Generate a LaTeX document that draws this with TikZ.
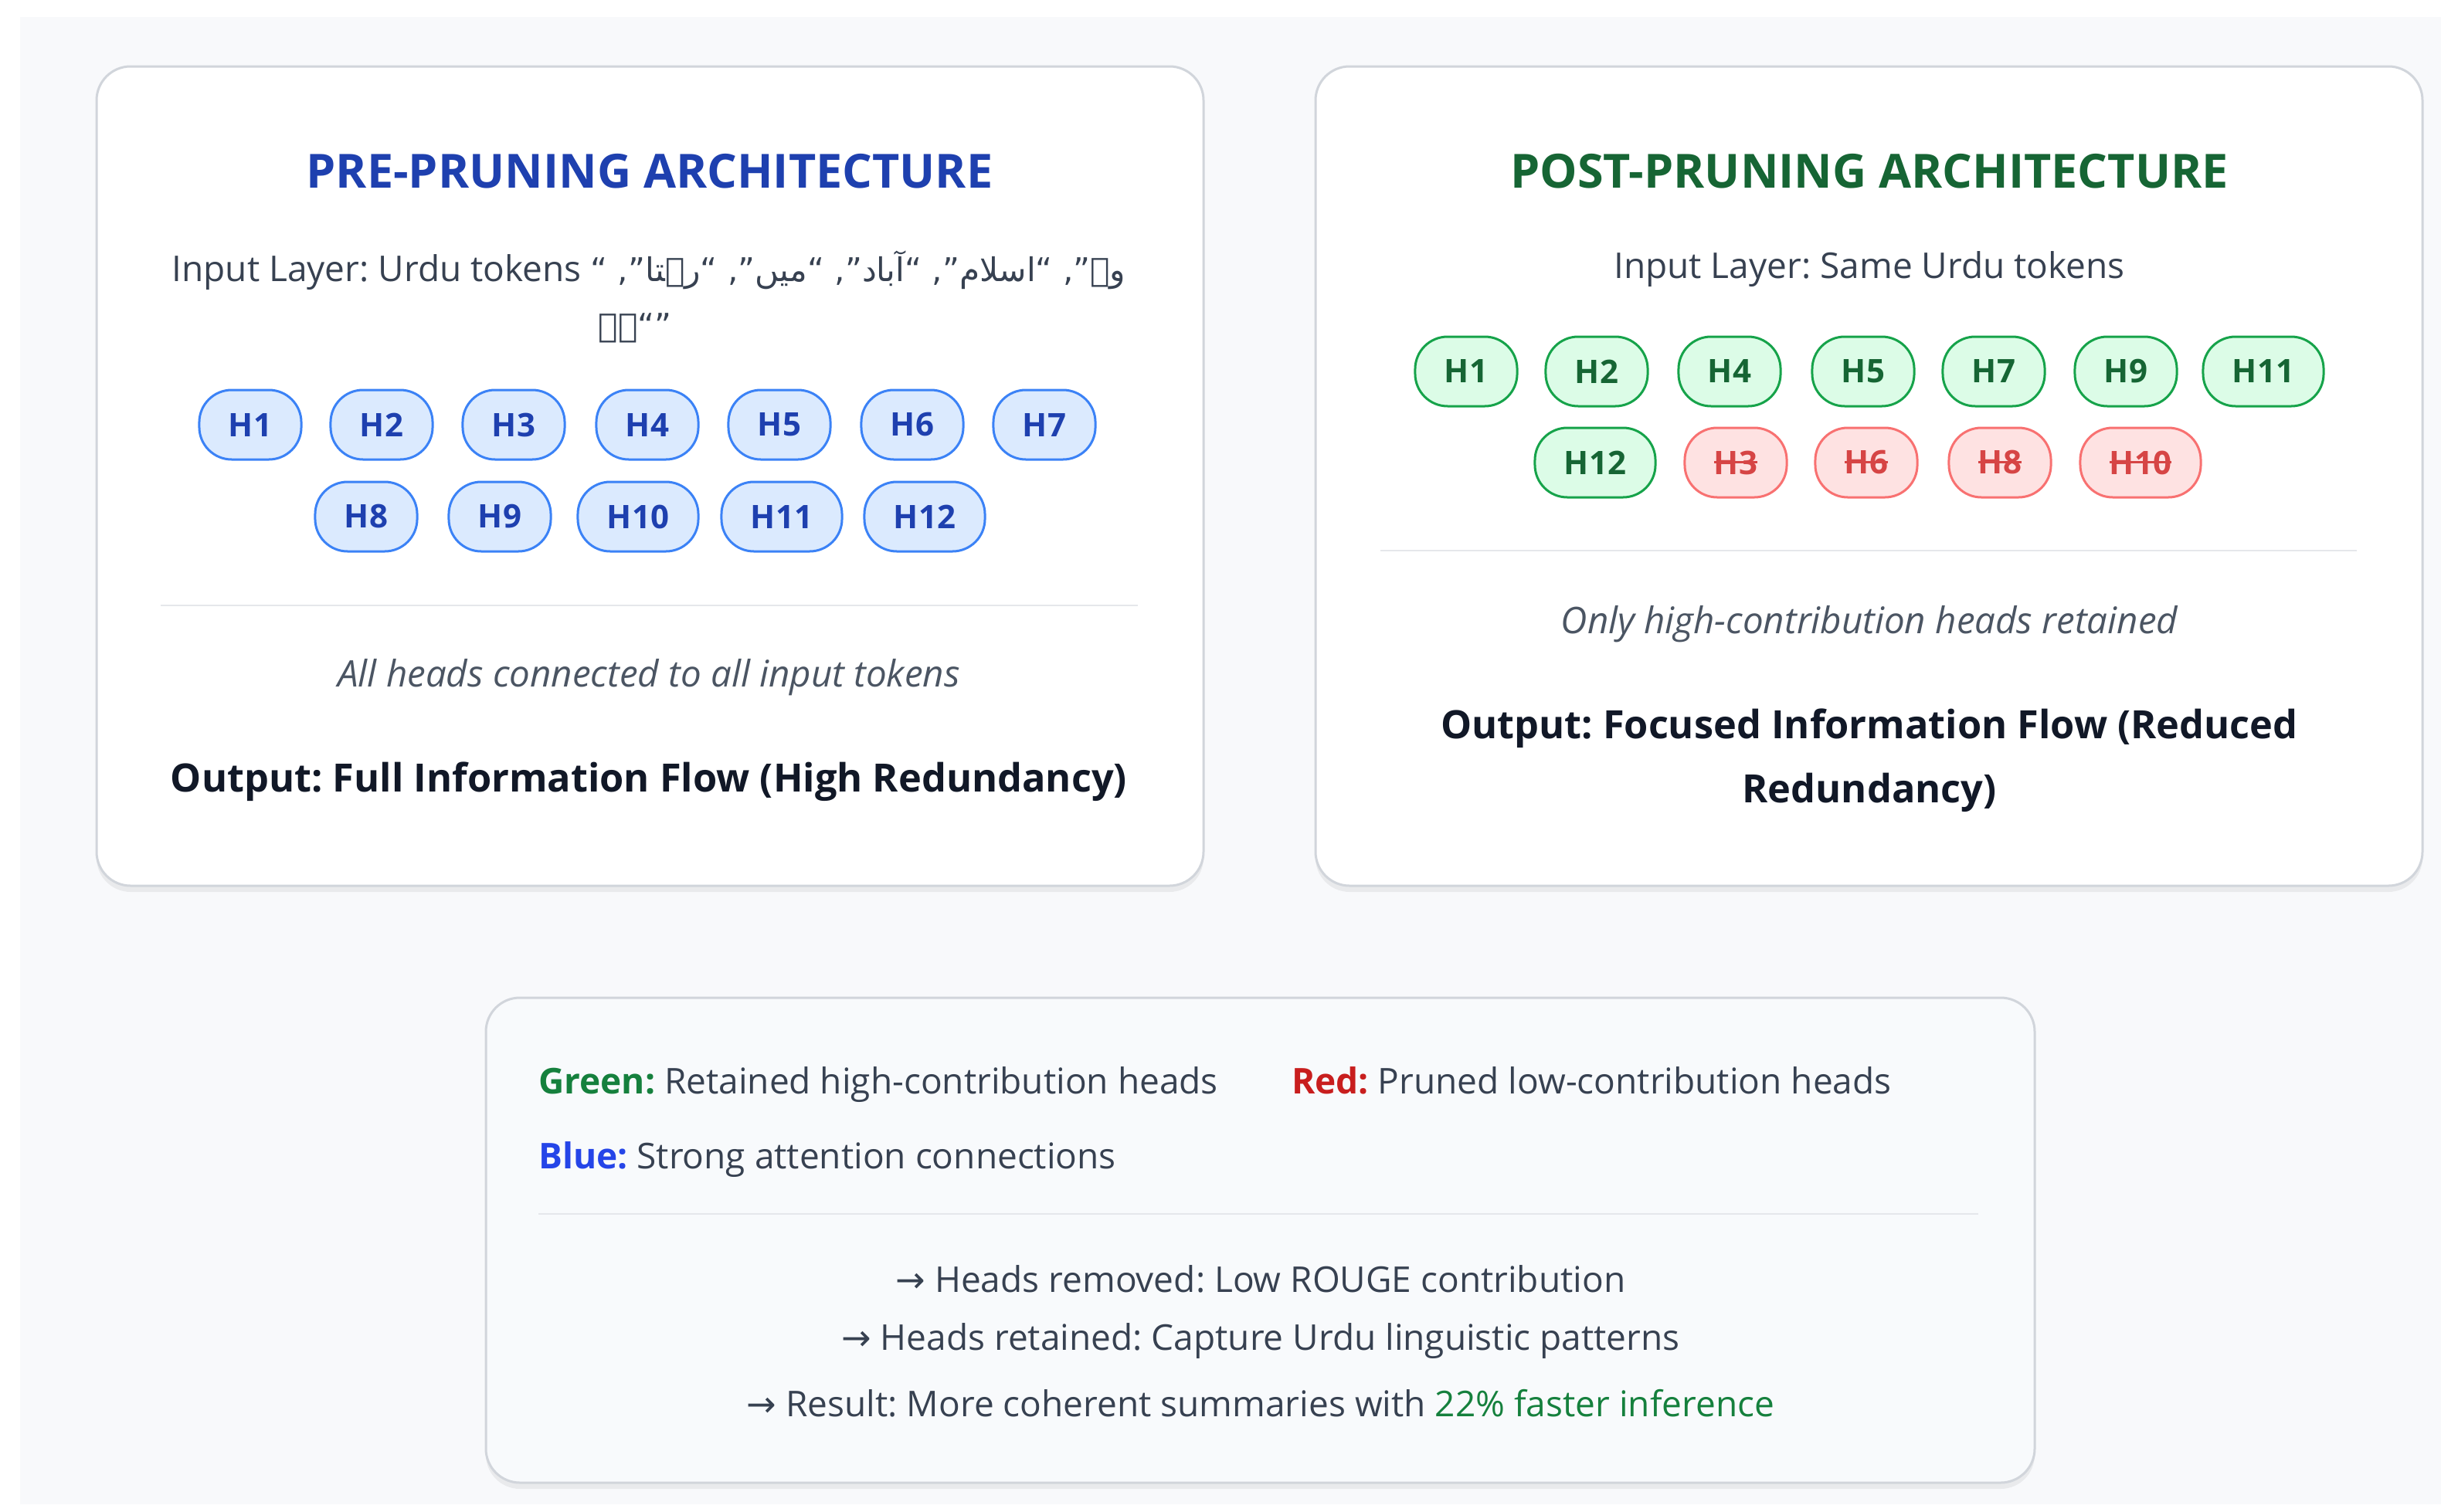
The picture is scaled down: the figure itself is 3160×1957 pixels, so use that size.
\documentclass[tikz,border=0pt]{standalone}
\usepackage{fontspec}
\setmainfont{Open Sans}
\newfontfamily\urdu[Script=Arabic,Scale=0.92]{DejaVu Sans}
\newfontfamily\arrowfont{DejaVu Sans}
\TeXXeTstate=1
\frenchspacing
\usetikzlibrary{shadows}
\newlength\strklen
\newcommand\strk[1]{\settowidth\strklen{#1}\rlap{#1}\rule[0.33em]{\strklen}{3pt}}
\definecolor{pagebg}{HTML}{F8F9FB}
\definecolor{cardborder}{HTML}{D1D5DB}
\definecolor{divider}{HTML}{E5E7EB}
\definecolor{legendfill}{HTML}{F8FAFC}
\definecolor{titleblue}{HTML}{1E40AF}
\definecolor{titlegreen}{HTML}{166534}
\definecolor{bodytext}{HTML}{374151}
\definecolor{mutedtext}{HTML}{4B5563}
\definecolor{darktext}{HTML}{111827}
\definecolor{bluefill}{HTML}{DBEAFE}
\definecolor{blueline}{HTML}{3B82F6}
\definecolor{bluetext}{HTML}{1E40AF}
\definecolor{greenfill}{HTML}{DCFCE7}
\definecolor{greenline}{HTML}{16A34A}
\definecolor{greentext}{HTML}{166534}
\definecolor{redfill}{HTML}{FEE2E2}
\definecolor{redline}{HTML}{F87171}
\definecolor{redtext}{HTML}{D64545}
\definecolor{labgreen}{HTML}{15803D}
\definecolor{labred}{HTML}{C81E1E}
\definecolor{labblue}{HTML}{2545E8}
\tikzset{
  card/.style={draw=cardborder, line width=3pt, fill=white, rounded corners=44pt,
    drop shadow={shadow xshift=0pt, shadow yshift=-8pt, opacity=0.06, fill=black}},
  legendbox/.style={draw=cardborder, line width=3pt, fill=legendfill, rounded corners=44pt,
    drop shadow={shadow xshift=0pt, shadow yshift=-8pt, opacity=0.06, fill=black}},
  pill/.style={line width=3pt, rounded corners=42pt, minimum height=90pt, inner xsep=38pt,
    inner ysep=0pt, font=\fontsize{42}{50}\selectfont\bfseries},
  bpill/.style={pill, draw=blueline, fill=bluefill, text=bluetext},
  gpill/.style={pill, draw=greenline, fill=greenfill, text=greentext},
  rpill/.style={pill, draw=redline, fill=redfill, text=redtext},
  title/.style={font=\fontsize{61}{70}\selectfont\bfseries},
  body/.style={font=\fontsize{46}{54}\selectfont, text=bodytext},
  note/.style={font=\fontsize{47.5}{56}\selectfont\itshape, text=mutedtext},
  outtext/.style={font=\fontsize{50.5}{62}\selectfont\bfseries, text=darktext},
  legtext/.style={font=\fontsize{46}{54}\selectfont, text=bodytext},
  rule/.style={draw=divider, line width=2.5pt}
}
\begin{document}
\begin{tikzpicture}[x=1pt,y=-1pt]
\useasboundingbox (0,0) rectangle (3160,1957);
\fill[white] (0,0) rectangle (3160,1957);
\fill[pagebg] (26,22) rectangle (3160,1948);

% cards
\draw[card] (125,86) rectangle (1558,1147);
\draw[card] (1703,86) rectangle (3136,1147);
\draw[legendbox] (629,1292) rectangle (2634,1920);

% left card
\node[title, text=titleblue] (ltitle) at (841,222) {PRE-PRUNING ARCHITECTURE};
\node[body] (linput) at (840,350) {Input Layer: Urdu tokens {\urdu\beginR وہ”, “اسلام”, “آباد”, “میں”, “رہتا”, “\endR}};
\node[body] (linput2) at (822,425) {{\urdu\beginR ”“ہے\endR}};

\node[bpill] (lh1) at (324,550) {H1};
\node[bpill] (lh2) at (494,550) {H2};
\node[bpill] (lh3) at (665,550) {H3};
\node[bpill] (lh4) at (838,550) {H4};
\node[bpill] (lh5) at (1009,550) {H5};
\node[bpill] (lh6) at (1181,550) {H6};
\node[bpill] (lh7) at (1352,550) {H7};
\node[bpill] (lh8) at (474,669) {H8};
\node[bpill] (lh9) at (647,669) {H9};
\node[bpill] (lh10) at (826,669) {H10};
\node[bpill] (lh11) at (1012,669) {H11};
\node[bpill] (lh12) at (1197,669) {H12};

\draw[rule] (208,784) -- (1473,784);
\node[note] (lnote) at (840,877) {All heads connected to all input tokens};
\node[outtext] (lout) at (840,1012) {Output: Full Information Flow (High Redundancy)};

% right card
\node[title, text=titlegreen] (rtitle) at (2420,222) {POST-PRUNING ARCHITECTURE};
\node[body] (rinput) at (2420,349) {Input Layer: Same Urdu tokens};

\node[gpill] (rh1) at (1898,481) {H1};
\node[gpill] (rh2) at (2067,481) {H2};
\node[gpill] (rh4) at (2239,481) {H4};
\node[gpill] (rh5) at (2412,481) {H5};
\node[gpill] (rh7) at (2581,481) {H7};
\node[gpill] (rh9) at (2752,481) {H9};
\node[gpill] (rh11) at (2930,481) {H11};
\node[gpill] (rh12) at (2065,599) {H12};
\node[rpill] (rh3) at (2247,599) {\strk{H3}};
\node[rpill] (rh6) at (2416,599) {\strk{H6}};
\node[rpill] (rh8) at (2589,599) {\strk{H8}};
\node[rpill] (rh10) at (2771,599) {\strk{H10}};

\draw[rule] (1787,713) -- (3051,713);
\node[note] (rnote) at (2420,808) {Only high-contribution heads retained};
\node[outtext] (rout1) at (2420,943) {Output: Focused Information Flow (Reduced};
\node[outtext] (rout2) at (2420,1026) {Redundancy)};

% legend
\node[legtext, anchor=base west, inner xsep=0pt] (lg1) at (697,1416) {{\bfseries\color{labgreen}Green:} Retained high-contribution heads};
\node[legtext, anchor=base west, inner xsep=0pt] (lg2) at (1672,1416) {{\bfseries\color{labred}Red:} Pruned low-contribution heads};
\node[legtext, anchor=base west, inner xsep=0pt] (lg3) at (697,1513) {{\bfseries\color{labblue}Blue:} Strong attention connections};
\draw[rule] (697,1572) -- (2561,1572);
\node[legtext] (lr1) at (1632,1656) {{\arrowfont →} Heads removed: Low ROUGE contribution};
\node[legtext] (lr2) at (1632,1737) {{\arrowfont →} Heads retained: Capture Urdu linguistic patterns};
\node[legtext] (lr3) at (1632,1817) {{\arrowfont →} Result: More coherent summaries with {\color{labgreen}22\% faster inference}};
\end{tikzpicture}
\end{document}
